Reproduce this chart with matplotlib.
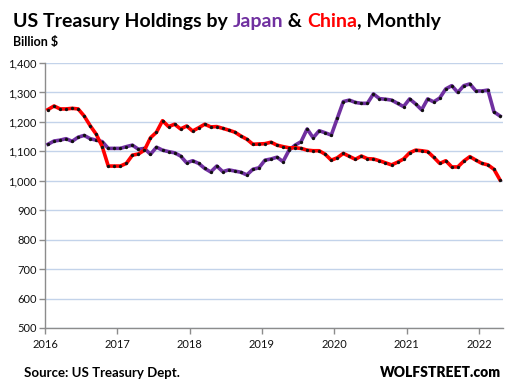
import matplotlib
matplotlib.use("Agg")
import matplotlib.pyplot as plt
import numpy as np
from matplotlib.ticker import FuncFormatter, FixedLocator

plt.rcParams['font.family'] = ['Lato', 'DejaVu Sans']

years = ["2016", "2017", "2018", "2019", "2020", "2021", "2022"]

china = [1242, 1254, 1244, 1244, 1246, 1244, 1220, 1187, 1158, 1116, 1050, 1050,
         1050, 1059, 1087, 1091, 1104, 1146, 1165, 1204, 1184, 1192, 1176, 1186,
         1169, 1180, 1192, 1183, 1184, 1178, 1172, 1165, 1152, 1141, 1124, 1125,
         1126, 1131, 1121, 1116, 1112, 1112, 1110, 1104, 1102, 1102, 1090, 1070,
         1078, 1093, 1083, 1073, 1084, 1075, 1074, 1068, 1061, 1054, 1063, 1074,
         1095, 1104, 1102, 1099, 1080, 1059, 1068, 1047, 1047, 1067, 1082, 1070,
         1059, 1054, 1039, 1003]

japan = [1124, 1135, 1138, 1143, 1134, 1148, 1154, 1143, 1138, 1133, 1110, 1110,
         1110, 1116, 1121, 1107, 1110, 1090, 1114, 1104, 1099, 1095, 1084, 1061,
         1068, 1059, 1042, 1030, 1050, 1031, 1037, 1033, 1029, 1020, 1039, 1044,
         1070, 1074, 1080, 1065, 1104, 1121, 1133, 1176, 1146, 1170, 1163, 1155,
         1212, 1269, 1274, 1266, 1263, 1263, 1295, 1279, 1277, 1274, 1263, 1252,
         1278, 1261, 1241, 1278, 1268, 1281, 1312, 1323, 1300, 1323, 1329, 1305,
         1305, 1308, 1234, 1220]

t = np.arange(len(china)) + 0.5  # months since Jan 2016, mid-month

W, H = 507, 388
fig = plt.figure(figsize=(W / 100, H / 100), dpi=100)
ax = fig.add_axes([45 / W, 1 - 328 / H, (503 - 45) / W, (328 - 63) / H])

purple = '#7030A0'
red = '#FF0000'
ax.plot(t, japan, color=purple, lw=2.6, solid_joinstyle='round', zorder=3,
        marker='o', ms=2.4, mfc='#111111', mec='#111111', mew=0)
ax.plot(t, china, color=red, lw=2.6, solid_joinstyle='round', zorder=4,
        marker='o', ms=2.4, mfc='#111111', mec='#111111', mew=0)

ax.set_xlim(0, 76)
ax.set_ylim(500, 1400)
ax.xaxis.set_major_locator(FixedLocator([12 * i for i in range(len(years))]))
ax.set_xticklabels(years)
ax.set_yticks(np.arange(500, 1401, 100))
ax.yaxis.set_major_formatter(FuncFormatter(lambda v, p: f"{int(v):,}"))

ax.grid(axis='y', color='#C3D3EA', lw=1.0, zorder=0)
ax.set_axisbelow(True)
for s in ['top', 'right']:
    ax.spines[s].set_visible(False)
for s in ['left', 'bottom']:
    ax.spines[s].set_color('#8C8C8C')
    ax.spines[s].set_linewidth(1.0)
ax.tick_params(axis='both', colors='#8C8C8C', labelcolor='#111111',
               labelsize=8, length=4, width=1.0, direction='out')
ax.tick_params(axis='x', pad=4)
ax.tick_params(axis='y', pad=2)

# Title with colored words
fig.canvas.draw()
renderer = fig.canvas.get_renderer()
parts = [("US Treasury Holdings by ", '#000000'), ("Japan", purple),
         (" & ", '#000000'), ("China", red), (", Monthly", '#000000')]
x = 13 / W
y = 1 - 27 / H
for txt, col in parts:
    tx = fig.text(x, y, txt, color=col, fontsize=14, fontweight='bold',
                  ha='left', va='baseline')
    bb = tx.get_window_extent(renderer)
    x = bb.x1 / W

fig.text(13 / W, 1 - 46 / H, "Billion $", fontsize=9, fontweight='bold',
         ha='left', va='baseline')
fig.text(24 / W, 1 - 377 / H, "Source: US Treasury Dept.", fontsize=9.5,
         fontweight='bold', ha='left', va='baseline')
fig.text(501 / W, 1 - 377 / H, "WOLFSTREET.com", fontsize=10,
         fontweight='heavy', ha='right', va='baseline')

fig.savefig("out.png", dpi=100)
